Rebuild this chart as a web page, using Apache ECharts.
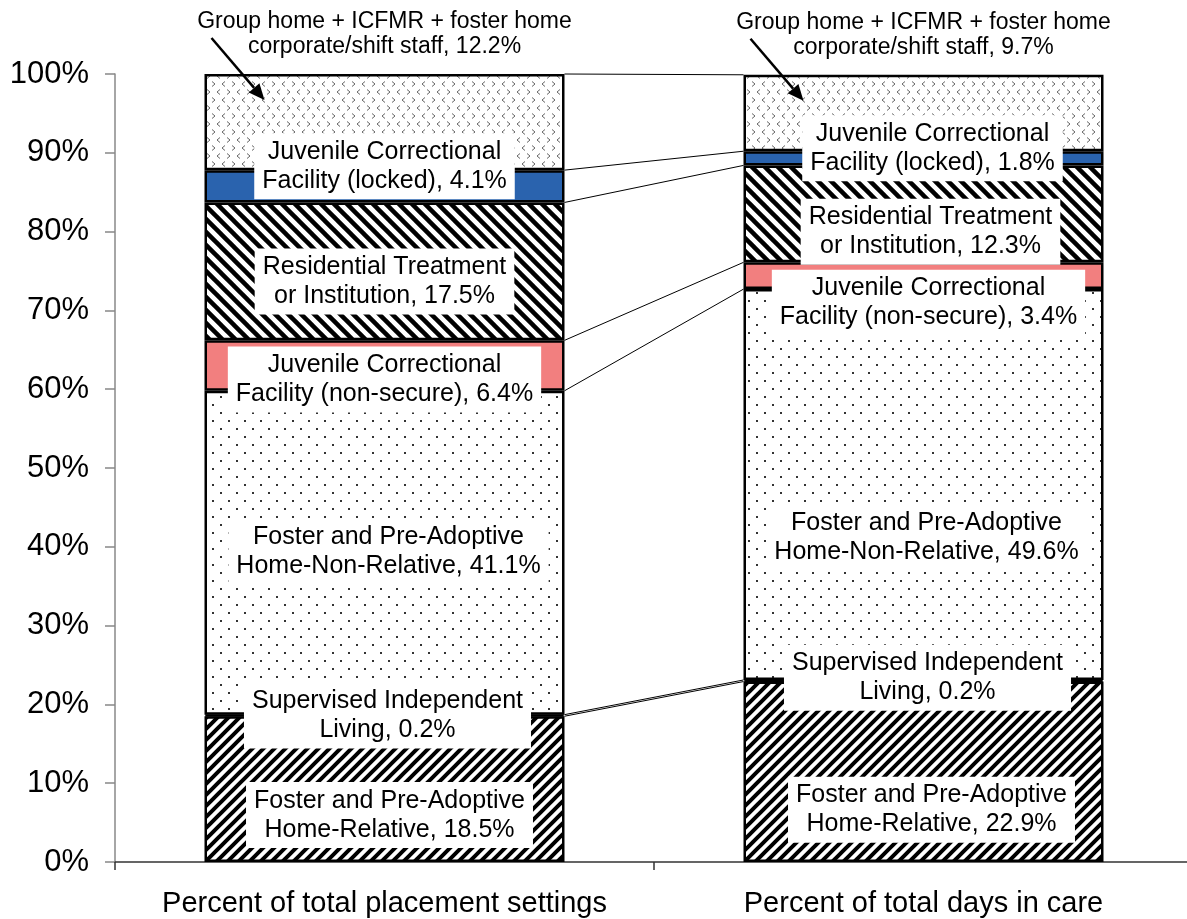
<!DOCTYPE html>
<html>
<head>
<meta charset="utf-8">
<script src="https://cdn.jsdelivr.net/npm/echarts@6/dist/echarts.min.js"></script>
<style>
  html, body { margin: 0; padding: 0; background: #fff; overflow: hidden; }
  #chart { width: 1200px; height: 919px; }
</style>
</head>
<body>
<div id="chart"></div>
<script>
// Placement settings: share of placements vs share of days in care
const categories = ['Percent of total placement settings', 'Percent of total days in care'];

const relativeHome     = [18.5, 22.9];
const supervisedLiving = [0.2, 0.2];
const nonRelativeHome  = [41.1, 49.6];
const jcfNonSecure     = [6.4, 3.4];
const residential      = [17.5, 12.3];
const jcfLocked        = [4.1, 1.8];
const groupHome        = [12.2, 9.7];

const yTicks = [0, 10, 20, 30, 40, 50, 60, 70, 80, 90, 100];

const FONT = '"Liberation Sans", Arial, Helvetica, sans-serif';
const BAR_WIDTH = 360;

// ---- fill patterns -------------------------------------------------------
function tile(w, h, draw) {
  const c = document.createElement('canvas');
  c.width = w; c.height = h;
  const ctx = c.getContext('2d');
  ctx.fillStyle = '#fff';
  ctx.fillRect(0, 0, w, h);
  draw(ctx, w, h);
  return { image: c, repeat: 'repeat' };
}
function stripes(p, lw, up) {
  return tile(p, p, (ctx) => {
    ctx.strokeStyle = '#000';
    ctx.lineWidth = lw;
    ctx.lineCap = 'square';
    for (let k = -p; k <= p; k += p) {
      ctx.beginPath();
      if (up) { ctx.moveTo(k - 2, p + 2); ctx.lineTo(k + p + 2, -2); }
      else { ctx.moveTo(k - 2, -2); ctx.lineTo(k + p + 2, p + 2); }
      ctx.stroke();
    }
  });
}
const upStripes = stripes(11, 4, true);
const downStripes = stripes(13, 4.5, false);
const dots = tile(16, 16, (ctx) => {
  ctx.fillStyle = '#333';
  ctx.fillRect(4, 4, 2, 2);
  ctx.fillRect(12, 12, 2, 2);
});
const chevrons = tile(20, 16, (ctx) => {
  ctx.strokeStyle = '#666';
  ctx.lineWidth = 1;
  function lt(x, y) { ctx.beginPath(); ctx.moveTo(x + 3, y); ctx.lineTo(x, y + 2.5); ctx.lineTo(x + 3, y + 5); ctx.stroke(); }
  function gt(x, y) { ctx.beginPath(); ctx.moveTo(x, y); ctx.lineTo(x + 3, y + 2.5); ctx.lineTo(x, y + 5); ctx.stroke(); }
  lt(2, 1.5); gt(12, 1.5);
  gt(7, 9.5); lt(17, 9.5);
});

// ---- segment series --------------------------------------------------------
const segments = [
  { name: 'Foster and Pre-Adoptive Home-Relative', lines: ['Foster and Pre-Adoptive', 'Home-Relative'],
    data: relativeHome, fill: upStripes, offsets: [[5, 26], [8, 38]] },
  { name: 'Supervised Independent Living', lines: ['Supervised Independent', 'Living'],
    data: supervisedLiving, fill: '#000', offsets: [[3, 0], [4, -3]] },
  { name: 'Foster and Pre-Adoptive Home-Non-Relative', lines: ['Foster and Pre-Adoptive', 'Home-Non-Relative'],
    data: nonRelativeHome, fill: dots, offsets: [[4, -1], [3, 53]] },
  { name: 'Juvenile Correctional Facility (non-secure)', lines: ['Juvenile Correctional', 'Facility (non-secure)'],
    data: jcfNonSecure, fill: '#F27F7F', offsets: [[0, 14], [5, 27]] },
  { name: 'Residential Treatment or Institution', lines: ['Residential Treatment', 'or Institution'],
    data: residential, fill: downStripes, offsets: [[0, 10], [7, 18]] },
  { name: 'Juvenile Correctional Facility (locked)', lines: ['Juvenile Correctional', 'Facility (locked)'],
    data: jcfLocked, fill: '#2A63AE', offsets: [[0, -20], [9, -10]] },
  { name: 'Group home + ICFMR + foster home corporate/shift staff', lines: ['Group home + ICFMR + foster home', 'corporate/shift staff'],
    data: groupHome, fill: chevrons, top: true }
];

const barSeries = segments.map((s) => ({
  type: 'bar',
  name: s.name,
  stack: 'total',
  barWidth: BAR_WIDTH,
  z: 2,
  itemStyle: { color: s.fill, borderColor: '#000', borderWidth: 2.5 },
  data: s.data.map((v, i) => {
    const item = { value: v };
    if (s.top) {
      item.label = {
        show: true, position: 'top', distance: 15,
        fontSize: 23, lineHeight: 25, color: '#000', fontFamily: FONT,
        formatter: (p) => s.lines[0] + '\n' + s.lines[1] + ', ' + p.value.toFixed(1) + '%'
      };
    } else {
      item.label = {
        show: true, position: 'inside', offset: s.offsets[i],
        fontSize: 25, lineHeight: 29, color: '#000', fontFamily: FONT,
        backgroundColor: '#fff', padding: [4, 8],
        formatter: (p) => s.lines[0] + '\n' + s.lines[1] + ', ' + p.value.toFixed(1) + '%'
      };
    }
    return item;
  })
}));

// Series lines joining the top of each segment across the two bars
function cumulative(col) {
  let run = 0;
  return segments.map((s) => { run += s.data[col]; return run; });
}
const topsLeft = cumulative(0);
const topsRight = cumulative(1);

const connectorSeries = {
  type: 'custom',
  name: 'series lines',
  silent: true,
  z: 1,
  encode: { x: 0, y: 1 },
  data: topsLeft.map((v, i) => [0, v, topsRight[i]]),
  renderItem: (params, api) => {
    const a = api.coord([0, api.value(1)]);
    const b = api.coord([1, api.value(2)]);
    const half = BAR_WIDTH / 2;
    return {
      type: 'line',
      shape: { x1: a[0] + half, y1: a[1], x2: b[0] - half, y2: b[1] },
      style: { stroke: '#000', lineWidth: 1 }
    };
  }
};

const chart = echarts.init(document.getElementById('chart'), null, { renderer: 'canvas' });

chart.setOption({
  animation: false,
  backgroundColor: '#fff',
  grid: { left: 115, top: 74, width: 1078, height: 788, containLabel: false },
  xAxis: {
    type: 'category',
    data: categories,
    boundaryGap: true,
    axisLine: { lineStyle: { color: '#333', width: 1.5 } },
    axisTick: { show: true, length: 8, lineStyle: { color: '#333', width: 1.5 } },
    axisLabel: { interval: 0, fontSize: 29, color: '#000', fontFamily: FONT, margin: 27 }
  },
  yAxis: {
    type: 'value',
    min: yTicks[0],
    max: yTicks[yTicks.length - 1],
    interval: yTicks[1] - yTicks[0],
    splitLine: { show: false },
    axisLine: { show: true, lineStyle: { color: '#888', width: 1.5 } },
    axisTick: { show: true, length: 10, lineStyle: { color: '#888', width: 1.5 } },
    axisLabel: { fontSize: 31, color: '#000', fontFamily: FONT, margin: 26, formatter: '{value}%' }
  },
  series: [connectorSeries].concat(barSeries)
});

// Pointer arrows from the top annotations into the top segment
const arrows = [];
categories.forEach((c, i) => {
  const tops = i === 0 ? topsLeft : topsRight;
  const top = chart.convertToPixel({ xAxisIndex: 0, yAxisIndex: 0 }, [i, tops[tops.length - 1]]);
  const left = top[0] - BAR_WIDTH / 2;
  const x1 = left + 7, y1 = top[1] - 36;
  const x2 = left + 60, y2 = top[1] + 26;
  const ang = Math.atan2(y2 - y1, x2 - x1);
  const len = 16, wid = 7;
  const bx = x2 - len * Math.cos(ang), by = y2 - len * Math.sin(ang);
  arrows.push({
    type: 'line', silent: true, z: 10,
    shape: { x1: x1, y1: y1, x2: bx, y2: by },
    style: { stroke: '#000', lineWidth: 2.5 }
  });
  arrows.push({
    type: 'polygon', silent: true, z: 10,
    shape: { points: [
      [x2, y2],
      [bx + wid * Math.sin(ang), by - wid * Math.cos(ang)],
      [bx - wid * Math.sin(ang), by + wid * Math.cos(ang)]
    ] },
    style: { fill: '#000' }
  });
});
chart.setOption({ graphic: arrows });
</script>
</body>
</html>
